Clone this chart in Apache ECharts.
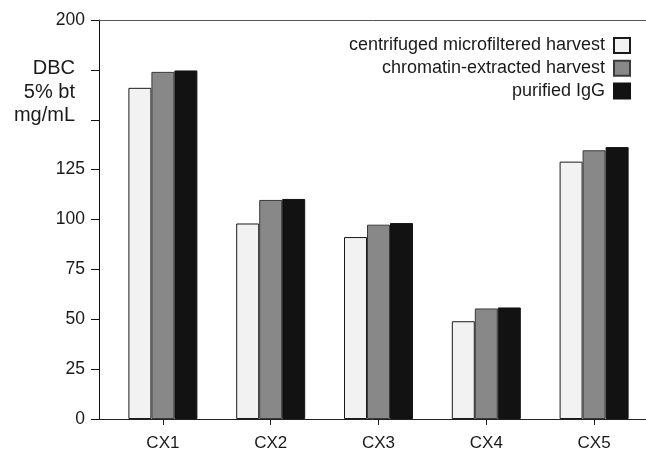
<!DOCTYPE html>
<html>
<head>
<meta charset="utf-8">
<script src="https://cdn.jsdelivr.net/npm/echarts@6/dist/echarts.min.js"></script>
<style>html,body{margin:0;padding:0;background:#fff;}#c{width:646px;height:450px;}</style>
</head>
<body>
<div id="c"></div>
<script>
var categories = ['CX1', 'CX2', 'CX3', 'CX4', 'CX5'];
var seriesNames = ['centrifuged microfiltered harvest', 'chromatin-extracted harvest', 'purified IgG'];
var centrifuged = [166, 98, 91.2, 49, 129];
var chromatin = [174, 109.8, 97.4, 55.4, 134.7];
var purified = [174.7, 110.3, 98.2, 55.9, 136.3];
var hiddenTicks = [150, 175];
var yTitle = 'DBC\n5% bt\nmg/mL';

var FONT = 'Liberation Sans, Arial, sans-serif';
var chart = echarts.init(document.getElementById('c'), null, {renderer: 'canvas'});

var fills = ['#f2f2f2', '#888888', '#121212'];
var borders = ['#1a1a1a', '#3a3a3a', '#121212'];
var values = [centrifuged, chromatin, purified];

var option = {
  animation: false,
  backgroundColor: '#ffffff',
  grid: [
    {left: 99, right: 0, top: 20, bottom: 31, containLabel: false, outerBoundsMode: 'none'},
    {left: 109, width: 539, top: 20, bottom: 31, containLabel: false, outerBoundsMode: 'none'}
  ],
  graphic: [{
    type: 'text',
    x: 75, y: 57,
    style: {
      text: yTitle,
      textAlign: 'right',
      font: '20px ' + FONT,
      lineHeight: 23.5,
      fill: '#1a1a1a'
    }
  }],
  legend: {
    orient: 'vertical',
    right: 15,
    top: 36.5,
    padding: 0,
    align: 'right',
    itemWidth: 16,
    itemHeight: 15,
    itemGap: 4.7,
    icon: 'rect',
    textStyle: {fontFamily: FONT, fontSize: 18, color: '#1a1a1a', padding: [0, 4, 0, 0]},
    data: seriesNames
  },
  xAxis: [
    {type: 'value', gridIndex: 0, min: 0, max: 1, position: 'bottom',
     axisLine: {show: true, onZero: false, lineStyle: {color: '#222', width: 1}},
     axisTick: {show: false}, axisLabel: {show: false}, splitLine: {show: false}},
    {type: 'value', gridIndex: 0, min: 0, max: 1, position: 'top',
     axisLine: {show: true, onZero: false, lineStyle: {color: '#555', width: 1}},
     axisTick: {show: false}, axisLabel: {show: false}, splitLine: {show: false}},
    {type: 'category', gridIndex: 1, data: categories, position: 'bottom',
     axisLine: {show: false},
     axisTick: {show: true, alignWithLabel: true, length: 6, lineStyle: {color: '#222'}},
     axisLabel: {fontFamily: FONT, fontSize: 17, color: '#1a1a1a', margin: 16},
     splitLine: {show: false}}
  ],
  yAxis: [
    {type: 'value', gridIndex: 0, min: 0, max: 200, interval: 25,
     axisLine: {show: true, lineStyle: {color: '#111', width: 1}},
     axisTick: {show: true, length: 8, lineStyle: {color: '#111'}},
     axisLabel: {fontFamily: FONT, fontSize: 17.5, color: '#1a1a1a', margin: 14,
       formatter: function (v) { return hiddenTicks.indexOf(v) >= 0 ? '' : String(v); }},
     splitLine: {show: false}},
    {type: 'value', gridIndex: 1, min: 0, max: 200, show: false, splitLine: {show: false}}
  ],
  series: seriesNames.map(function (name, i) {
    return {
      name: name,
      type: 'bar',
      xAxisIndex: 2,
      yAxisIndex: 1,
      data: values[i],
      barWidth: 23,
      barGap: '0%',
      itemStyle: {color: fills[i], borderColor: borders[i], borderWidth: 1}
    };
  })
};
chart.setOption(option);
</script>
</body>
</html>
